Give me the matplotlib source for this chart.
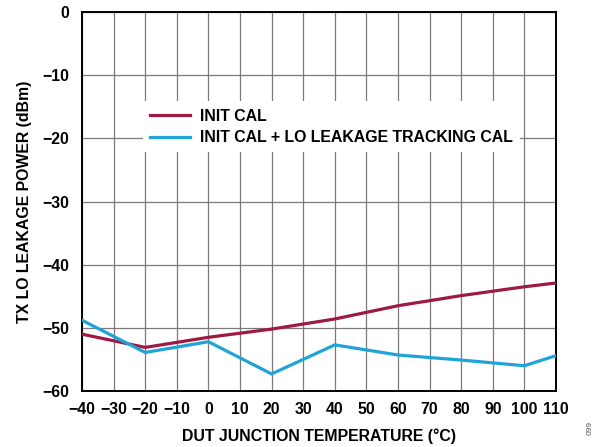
import matplotlib
matplotlib.use("Agg")
import matplotlib.pyplot as plt

temps = [-40, -20, 0, 20, 40, 60, 80, 100, 110]
init_cal = [-51.0, -53.1, -51.5, -50.2, -48.6, -46.5, -44.9, -43.5, -42.9]
init_track_cal = [-48.8, -53.9, -52.2, -57.3, -52.7, -54.3, -55.1, -56.0, -54.4]
xticks = list(range(-40, 111, 10))
yticks = list(range(-60, 1, 10))

plt.rcParams['font.family'] = ['Liberation Sans', 'DejaVu Sans']
plt.rcParams['font.weight'] = 'bold'
plt.rcParams['axes.unicode_minus'] = True

fs = 11.4
fig = plt.figure(figsize=(6.14, 4.47), dpi=100)
ax = fig.add_axes([82/614, 1 - 391/447, (556-82)/614, (391-12)/447])

red = '#9E1A43'
blue = '#1FA3D8'
ax.plot(temps, init_cal, color=red, lw=2.3, label='INIT CAL', zorder=3, solid_joinstyle='miter')
ax.plot(temps, init_track_cal, color=blue, lw=2.3, label='INIT CAL + LO LEAKAGE TRACKING CAL', zorder=3, solid_joinstyle='miter')

ax.set_xlim(-40, 110)
ax.set_ylim(-60, 0)
ax.set_xticks(xticks)
ax.set_yticks(yticks)
ax.set_xticklabels([('\u2212' + str(-t)) if t < 0 else str(t) for t in xticks])
ax.set_yticklabels([('\u2212' + str(-t)) if t < 0 else str(t) for t in yticks])
ax.grid(True, color='#7a7a7a', lw=0.9)
ax.set_axisbelow(True)
ax.tick_params(length=0, labelsize=fs)
ax.tick_params(axis='x', pad=8)
ax.tick_params(axis='y', pad=9)
for s in ax.spines.values():
    s.set_linewidth(1.4)
    s.set_color('black')

ax.set_xlabel('DUT JUNCTION TEMPERATURE (°C)', fontsize=fs, fontweight='bold', labelpad=8)
ax.set_ylabel('TX LO LEAKAGE POWER (dBm)', fontsize=fs, fontweight='bold', labelpad=8)

leg = ax.legend(loc='upper left', bbox_to_anchor=(0.111, 0.785), frameon=True, fancybox=False,
                edgecolor='white', framealpha=1, fontsize=fs, handlelength=2.55,
                handletextpad=0.64, borderpad=0.45, labelspacing=0.42)
leg.get_frame().set_linewidth(0)

fig.text(590/614, 1 - 428/447, '099', rotation=90, fontsize=6, color='#555555',
         fontweight='normal', ha='center', va='center')

fig.savefig('out.png', dpi=100)
